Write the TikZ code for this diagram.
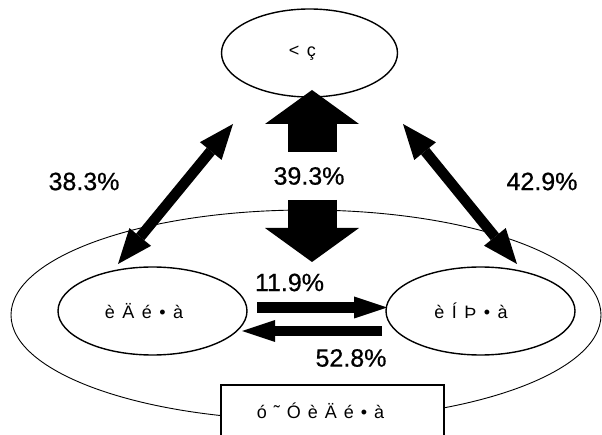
\documentclass[tikz,border=0pt]{standalone}
\usepackage{fontspec}
\setmainfont{Liberation Sans}
\newfontfamily\ratefont[FakeBold=0.6]{Liberation Sans}
\usetikzlibrary{shapes.geometric,arrows.meta}
\newcommand{\widegaps}[1]{\spaceskip=#1\relax}
\tikzstyle{place} = [ellipse, draw, line width=1.4pt, fill=white, inner sep=0pt, text centered, font={\fontsize{18}{22}\selectfont\widegaps{7.5pt}}]
\tikzstyle{region} = [ellipse, draw, line width=0.9pt, inner sep=0pt]
\tikzstyle{store} = [rectangle, draw, fill=white, line width=1.3pt, inner sep=0pt, text centered, font={\fontsize{18}{22}\selectfont\widegaps{7pt}}]
\tikzstyle{rate} = [font=\ratefont\fontsize{25}{30}\selectfont]
\tikzstyle{bigflow} = [line width=49pt, -{Triangle[width=94pt, length=34pt, line width=0pt]}]
\tikzstyle{flow} = [line width=10.5pt, -{Triangle[width=22pt, length=33pt, line width=0pt]}]
\tikzstyle{link} = [line width=10.5pt, {Triangle[width=28pt, length=35pt, line width=0pt]}-{Triangle[width=28pt, length=35pt, line width=0pt]}]

\begin{document}
\begin{tikzpicture}[x=1pt, y=-1pt]
            \clip (0,0) rectangle (602,435);
            \node (outer) [region, minimum width=590pt, minimum height=210pt] at (306,315) {};
            \node (top) [place, minimum width=176pt, minimum height=88pt] at (309.5,53) {< ç\hspace*{14pt}};
            \node (left) [place, minimum width=189pt, minimum height=88pt] at (152.5,311) {è Ä é • à\hspace*{17pt}};
            \node (right) [place, minimum width=189pt, minimum height=88pt] at (480.5,311) {è Í Þ • à\hspace*{19pt}};
            \node (box) [store, minimum width=223pt, minimum height=52pt] at (332.5,411) {ó ˜ Ó è Ä é • à\hspace*{24pt}};
            % up and down between top and the outer ring
            \coordinate (upfoot) at (312,152);
            \coordinate (uptip) at (312,90);
            \coordinate (downfoot) at (312,200);
            \coordinate (downtip) at (312,262);
            \draw [bigflow] (upfoot) -- (uptip);
            \draw [bigflow] (downfoot) -- (downtip);
            \node (r393) [rate] at (309,176) {39.3\%};
            % diagonal links
            \coordinate (lup) at (233,124);
            \coordinate (llow) at (118,264);
            \coordinate (rup) at (403,124);
            \coordinate (rlow) at (517,264);
            \draw [link] (llow) -- (lup);
            \draw [link] (rup) -- (rlow);
            \node (r383) [rate] at (84,181.5) {38.3\%};
            \node (r429) [rate] at (542,181.5) {42.9\%};
            % between the two inner places
            \coordinate (outfoot) at (257,307.5);
            \coordinate (outtip) at (387,307.5);
            \coordinate (backfoot) at (382,331);
            \coordinate (backtip) at (242,331);
            \draw [flow] (outfoot) -- (outtip);
            \draw [flow] (backfoot) -- (backtip);
            \node (r119) [rate] at (289.5,282.5) {11.9\%};
            \node (r528) [rate] at (351,358) {52.8\%};
        \end{tikzpicture}
\end{document}
